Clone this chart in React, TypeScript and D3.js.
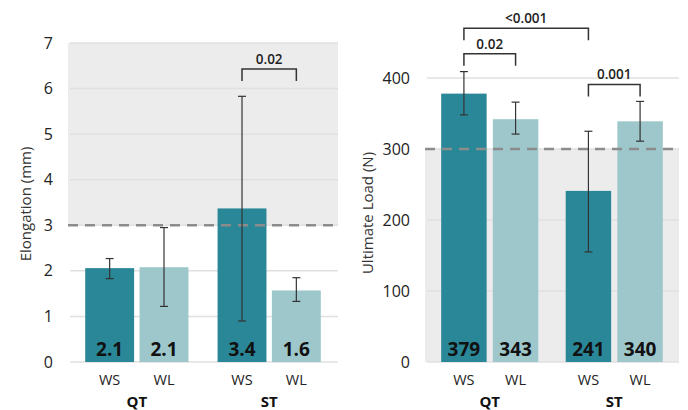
import React from "react";
import * as d3 from "d3";

const groups = ["QT", "ST"];
const series = ["WS", "WL"];

// Elongation (mm): QT-WS, QT-WL, ST-WS, ST-WL
const elongMean = [2.06, 2.08, 3.37, 1.57];
const elongLow = [1.83, 1.22, 0.9, 1.33];
const elongHigh = [2.27, 2.95, 5.83, 1.85];
const elongLabels = ["2.1", "2.1", "3.4", "1.6"];
const elongTicks = [0, 1, 2, 3, 4, 5, 6, 7];
const elongBrackets = [{ from: 2, to: 3, level: 6.43, label: "0.02" }];

// Ultimate load (N)
const loadMean = [378, 342, 241, 339];
const loadLow = [348, 321, 155, 311];
const loadHigh = [409, 366, 325, 367];
const loadLabels = ["379", "343", "241", "340"];
const loadTicks = [0, 100, 200, 300, 400];
const loadBrackets = [
  { from: 0, to: 2, level: 470, label: "<0.001" },
  { from: 0, to: 1, level: 434, label: "0.02" },
  { from: 2, to: 3, level: 391, label: "0.001" },
];

const colors = ["#2a8798", "#9ec7cc"];
const FONT = "'Open Sans', sans-serif";

type PanelProps = {
  left: number;
  right: number;
  top: number;
  bottom: number;
  yMax: number;
  threshold: number;
  shadeAbove: boolean;
  ticks: number[];
  mean: number[];
  low: number[];
  high: number[];
  labels: string[];
  brackets: { from: number; to: number; level: number; label: string }[];
  title: string;
  titleX: number;
  titleY: number;
  subPad: number;
};

const Panel = (p: PanelProps) => {
  const x0 = d3
    .scaleBand<string>()
    .domain(groups)
    .range([p.left, p.right])
    .paddingInner(0.22)
    .paddingOuter(0.13);
  const x1 = d3
    .scaleBand<string>()
    .domain(series)
    .range([0, x0.bandwidth()])
    .paddingInner(p.subPad);
  const y = d3.scaleLinear().domain([0, p.yMax]).range([p.bottom, p.top]);

  const bars = groups.flatMap((g, gi) =>
    series.map((s, si) => ({ g, s, si, i: gi * 2 + si })),
  );
  const cx = (i: number) =>
    (x0(groups[Math.floor(i / 2)]) as number) +
    (x1(series[i % 2]) as number) +
    x1.bandwidth() / 2;

  const yt = y(p.threshold);
  const topEdge = y(p.yMax);

  return (
    <g>
      {/* shaded band */}
      <rect
        x={p.left}
        width={p.right - p.left}
        y={p.shadeAbove ? topEdge : yt}
        height={p.shadeAbove ? yt - topEdge : p.bottom - yt}
        fill="#ececec"
      />
      {/* grid */}
      {p.ticks.map((t) => (
        <line
          key={t}
          x1={p.left + 2}
          x2={p.right}
          y1={y(t)}
          y2={y(t)}
          stroke="#e0e0e0"
          strokeWidth={1.5}
        />
      ))}
      {/* tick labels */}
      {p.ticks.map((t) => (
        <text
          key={"l" + t}
          x={p.left - 15}
          y={y(t)}
          dy="0.35em"
          textAnchor="end"
          fontSize={16}
          fill="#222"
          fontFamily={FONT}
        >
          {t}
        </text>
      ))}
      <text
        transform={`translate(${p.titleX},${p.titleY}) rotate(-90)`}
        textAnchor="middle"
        dominantBaseline="central"
        fontSize={15}
        fill="#333"
        fontFamily={FONT}
      >
        {p.title}
      </text>
      {/* bars */}
      {bars.map((b) => (
        <rect
          key={b.i}
          x={(x0(b.g) as number) + (x1(b.s) as number)}
          width={x1.bandwidth()}
          y={y(p.mean[b.i])}
          height={p.bottom - y(p.mean[b.i])}
          fill={colors[b.si]}
        />
      ))}
      {/* threshold dashed line */}
      <line
        x1={p.left}
        x2={p.right}
        y1={yt}
        y2={yt}
        stroke="#8c8c8c"
        strokeWidth={2.5}
        strokeDasharray="10,7"
      />
      {/* error bars */}
      {bars.map((b) => {
        const c = cx(b.i);
        return (
          <g key={"e" + b.i} stroke="#333" strokeWidth={1.2}>
            <line x1={c} x2={c} y1={y(p.low[b.i])} y2={y(p.high[b.i])} />
            <line x1={c - 4} x2={c + 4} y1={y(p.low[b.i])} y2={y(p.low[b.i])} />
            <line x1={c - 4} x2={c + 4} y1={y(p.high[b.i])} y2={y(p.high[b.i])} />
          </g>
        );
      })}
      {/* value labels */}
      {bars.map((b) => (
        <text
          key={"v" + b.i}
          x={cx(b.i)}
          y={p.bottom - 6}
          textAnchor="middle"
          fontSize={19}
          fontWeight={700}
          fill="#111"
          fontFamily={FONT}
        >
          {p.labels[b.i]}
        </text>
      ))}
      {/* category labels */}
      {bars.map((b) => (
        <text
          key={"s" + b.i}
          x={cx(b.i)}
          y={p.bottom + 23}
          textAnchor="middle"
          fontSize={14.5}
          fill="#222"
          fontFamily={FONT}
        >
          {b.s}
        </text>
      ))}
      {groups.map((g) => (
        <text
          key={g}
          x={(x0(g) as number) + x0.bandwidth() / 2}
          y={p.bottom + 45}
          textAnchor="middle"
          fontSize={15}
          fontWeight={700}
          fill="#111"
          fontFamily={FONT}
        >
          {g}
        </text>
      ))}
      {/* significance brackets */}
      {p.brackets.map((br, k) => {
        const a = cx(br.from);
        const c = cx(br.to);
        const by = y(br.level);
        return (
          <g key={"b" + k}>
            <path
              d={`M${a},${by + 12}V${by}H${c}V${by + 12}`}
              fill="none"
              stroke="#333"
              strokeWidth={1.5}
            />
            <text
              x={(a + c) / 2}
              y={by - 5}
              textAnchor="middle"
              fontSize={13.5}
              fontWeight={600}
              fill="#222"
              fontFamily={FONT}
            >
              {br.label}
            </text>
          </g>
        );
      })}
    </g>
  );
};

export default function App() {
  return (
    <svg
      width={688}
      height={410}
      style={{ position: "absolute", left: 0, top: 0, background: "#fff" }}
    >
      <Panel
        left={68}
        right={338}
        top={43}
        bottom={362}
        yMax={7}
        threshold={3}
        shadeAbove={true}
        ticks={elongTicks}
        mean={elongMean}
        low={elongLow}
        high={elongHigh}
        labels={elongLabels}
        brackets={elongBrackets}
        title="Elongation (mm)"
        titleX={25}
        titleY={204}
        subPad={0.1}
      />
      <Panel
        left={425}
        right={679}
        top={78}
        bottom={362}
        yMax={400}
        threshold={300}
        shadeAbove={false}
        ticks={loadTicks}
        mean={loadMean}
        low={loadLow}
        high={loadHigh}
        labels={loadLabels}
        brackets={loadBrackets}
        title="Ultimate Load (N)"
        titleX={367}
        titleY={213}
        subPad={0.12}
      />
    </svg>
  );
}
